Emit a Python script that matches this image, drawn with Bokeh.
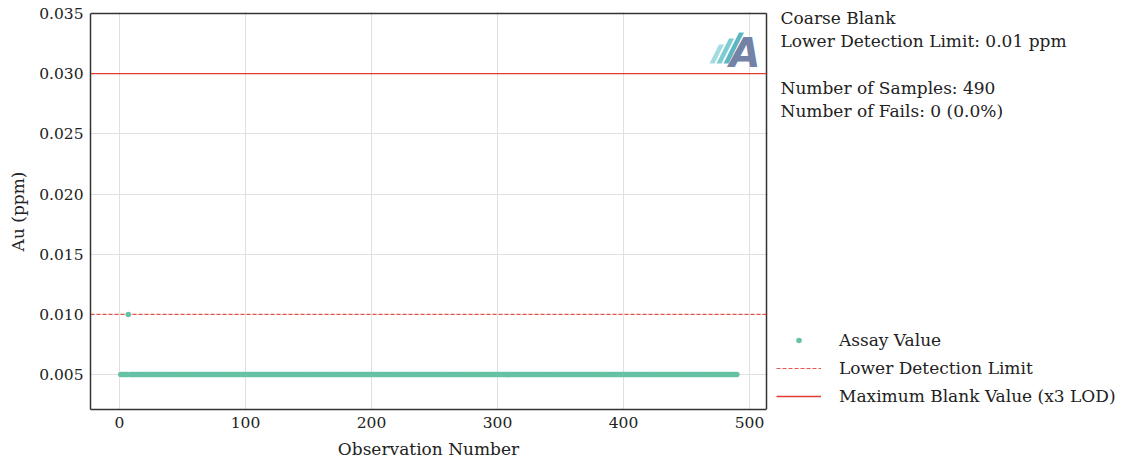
from bokeh.plotting import figure
from bokeh.models import (Range1d, FixedTicker, NumeralTickFormatter, Label, Legend, LegendItem,
                          BoxAnnotation, LinearAxis, CustomJSTickFormatter)
from bokeh.embed import file_html
from bokeh.resources import INLINE

# ---- data ----
obs_numbers = list(range(1, 491))
au_values = [0.005] * 6 + [0.010] + [0.005] * 483
lower_detection_limit = 0.01
max_blank_value = 0.03
y_ticks = [0.005, 0.010, 0.015, 0.020, 0.025, 0.030, 0.035]
x_ticks = [0, 100, 200, 300, 400, 500]
info_lines = ["Coarse Blank", "Lower Detection Limit: 0.01 ppm",
              "Number of Samples: 490", "Number of Fails: 0 (0.0%)"]
legend_labels = ["Assay Value", "Lower Detection Limit", "Maximum Blank Value (x3 LOD)"]

FONT = "DejaVu Serif"
GREEN = "#66c2a5"
RED = "#e03c31"
TXT = "#222222"
EDGE = "#333333"

W, H = 1125, 463
FL, FT, FR, FB = 90, 13, 766, 409   # plotting-area edges (page px)
X0, X1 = -23, 513.5                 # plotting-area data limits
Y0, Y1 = 0.0021, 0.035

# the bokeh frame spans the whole area right of / above the plotting area
XE = X0 + (W - FL) * (X1 - X0) / (FR - FL)
YT = Y1 + FT * (Y1 - Y0) / (FB - FT)


def dx(px):
    return X0 + (px - FL) / (FR - FL) * (X1 - X0)


def dy(py):
    return Y1 - (py - FT) / (FB - FT) * (Y1 - Y0)


p = figure(width=W, height=H, output_backend="svg", toolbar_location=None,
           x_range=Range1d(X0, XE), y_range=Range1d(Y0, YT),
           min_border_left=FL, min_border_right=0, min_border_top=0,
           min_border_bottom=H - FB)
p.outline_line_color = None

for ax in (p.xaxis[0], p.yaxis[0]):
    ax.axis_line_color = EDGE
    ax.axis_line_width = 1.5
    ax.major_tick_out = 0
    ax.major_tick_in = 0
    ax.minor_tick_out = 0
    ax.minor_tick_in = 0
    ax.major_label_text_font = FONT
    ax.major_label_text_font_size = "15.5px"
    ax.major_label_text_color = TXT

p.xaxis.ticker = FixedTicker(ticks=x_ticks)
p.yaxis.ticker = FixedTicker(ticks=y_ticks)
p.yaxis.formatter = NumeralTickFormatter(format="0.000")
p.xaxis.bounds = (X0, X1)
p.yaxis.bounds = (Y0, Y1)
p.xaxis.major_label_standoff = 7
p.yaxis.major_label_standoff = 7

# axis titles as centred labels of extra, line-less axes
xlab_ax = LinearAxis(ticker=FixedTicker(ticks=[(X0 + X1) / 2]),
                     formatter=CustomJSTickFormatter(code="return 'Observation Number'"))
ylab_ax = LinearAxis(ticker=FixedTicker(ticks=[(Y0 + Y1) / 2]),
                     formatter=CustomJSTickFormatter(code="return 'Au (ppm)'"),
                     major_label_orientation="vertical")
for ax in (xlab_ax, ylab_ax):
    ax.axis_line_color = None
    ax.major_tick_out = 0
    ax.major_tick_in = 0
    ax.minor_tick_out = 0
    ax.minor_tick_in = 0
    ax.major_label_text_font = FONT
    ax.major_label_text_font_size = "17px"
    ax.major_label_text_color = TXT
xlab_ax.major_label_standoff = 8
ylab_ax.major_label_standoff = 9
p.add_layout(xlab_ax, "below")
p.add_layout(ylab_ax, "left")

p.xgrid.grid_line_color = "#e0e0e0"
p.ygrid.grid_line_color = "#e0e0e0"
p.xgrid.grid_line_width = 1
p.ygrid.grid_line_width = 1

# white masks over the grid outside the plotting area (drawn right after the grid)
p.add_layout(BoxAnnotation(bottom=dy(11.8), fill_color="white", fill_alpha=1,
                           line_color=None, level="underlay"))
p.add_layout(BoxAnnotation(left=dx(767.2), fill_color="white", fill_alpha=1,
                           line_color=None, level="underlay"))

# top and right edges of the plotting area
p.segment(x0=[X0, X1], y0=[Y1, Y0], x1=[X1, X1], y1=[Y1, Y1],
          line_color=EDGE, line_width=1.5)

r_ldl = p.line([X0, X1], [lower_detection_limit] * 2, line_color=RED, line_dash="4 2",
               line_width=1.1, line_alpha=0.85)
r_max = p.line([X0, X1], [max_blank_value] * 2, line_color=RED, line_width=1.3)
r_pts = p.scatter(obs_numbers, au_values, size=5.5, color=GREEN, line_color=None)

# ---- logo (decoration)
stripe_cols = ["#a3dbe1", "#7cccd4", "#5bb7c3"]
stripe_xs, stripe_ys = [], []
for i, top in enumerate([44, 38, 32]):
    bx = 709 + 7 * i
    shift = (63 - top) * 0.5
    stripe_xs.append([dx(bx), dx(bx + 5), dx(bx + 5 + shift), dx(bx + shift)])
    stripe_ys.append([dy(63), dy(63), dy(top), dy(top)])
p.patches(stripe_xs, stripe_ys, fill_color=stripe_cols, line_color=None)
p.add_layout(Label(x=dx(729), y=dy(52), text="A", text_font="DejaVu Sans",
                   text_font_style="bold italic", text_font_size="40px",
                   text_color="#7382a6", text_baseline="alphabetic"))

# ---- info text
for txt, ty in zip(info_lines, [17, 40, 87, 110]):
    p.add_layout(Label(x=dx(780), y=dy(ty), text=txt, text_font=FONT, text_font_size="17px",
                       text_color=TXT, text_baseline="middle", text_align="left"))

# ---- legend
legend = Legend(items=[LegendItem(label=legend_labels[0], renderers=[r_pts]),
                       LegendItem(label=legend_labels[1], renderers=[r_ldl]),
                       LegendItem(label=legend_labels[2], renderers=[r_max])],
                location=(776 - FL, -1), orientation="vertical")
legend.border_line_color = None
legend.background_fill_alpha = 0
legend.label_text_font = FONT
legend.label_text_font_size = "17px"
legend.label_text_color = TXT
legend.glyph_width = 45
legend.glyph_height = 14
legend.label_height = 28
legend.label_standoff = 18
legend.spacing = 0
legend.padding = 0
legend.margin = 0
p.add_layout(legend, "center")

open("out.html", "w").write(file_html(p, INLINE))
